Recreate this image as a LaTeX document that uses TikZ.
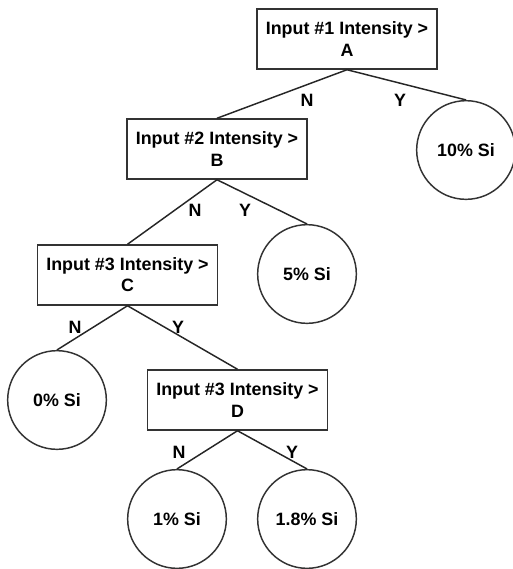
\documentclass[tikz,border=0pt]{standalone}
\usepackage{fontspec}
\setmainfont{Liberation Sans}
\usepackage{tikz}

\begin{document}
\begin{tikzpicture}[x=0.75pt,y=-0.75pt,
  font=\fontsize{13.4}{15.8}\selectfont\bfseries,
  test/.style={draw=black!80,line width=1.1pt,minimum width=135pt,minimum height=45pt,inner sep=0pt,align=center},
  leaf/.style={draw=black!80,line width=1.1pt,circle,minimum size=74pt,inner sep=0pt},
  edge/.style={draw=black!85,line width=1.1pt}]
\useasboundingbox (0,0) rectangle (512,569);
\node [test] (inA) at (347,39) {Input \#1 Intensity >\\A};
\node [test] (inB) at (217,149) {Input \#2 Intensity >\\B};
\node [test] (inC) at (127.5,275) {Input \#3 Intensity >\\C};
\node [test] (inD) at (237.5,400) {Input \#3 Intensity >\\D};
\node [leaf] (si10) at (466,150) {10\% Si};
\node [leaf] (si5) at (307,274) {5\% Si};
\node [leaf] (si0) at (57,400) {0\% Si};
\node [leaf] (si1) at (177,519) {1\% Si};
\node [leaf] (si18) at (307,519) {1.8\% Si};
\draw [edge] (inA.south) -- (inB.north);
\draw [edge] (inA.south) -- (si10.north);
\draw [edge] (inB.south) -- (inC.north);
\draw [edge] (inB.south) -- (si5.north);
\draw [edge] (inC.south) -- (si0.north);
\draw [edge] (inC.south) -- (inD.north);
\draw [edge] (inD.south) -- (si1.north);
\draw [edge] (inD.south) -- (si18.north);
\foreach \x/\y/\label/\name in {307/100/N/nA,400/100/Y/yA,195/210/N/nB,245/210/Y/yB,
  75/327/N/nC,178/327/Y/yC,179/452/N/nD,292/452/Y/yD} {
  \node (\name) at (\x,\y) {\label};
}
\end{tikzpicture}
\end{document}
